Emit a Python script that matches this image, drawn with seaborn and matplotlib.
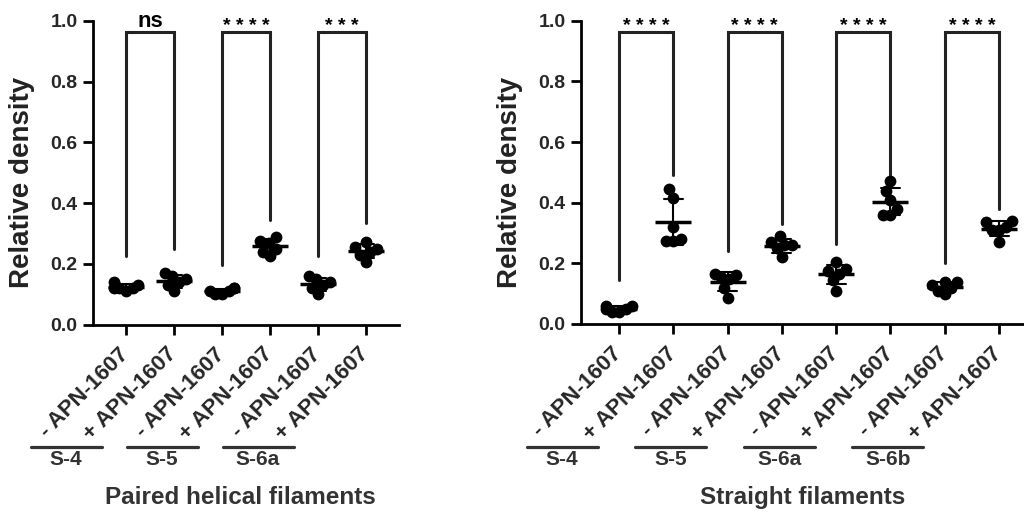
import matplotlib
matplotlib.use("Agg")
import matplotlib.pyplot as plt
from matplotlib.lines import Line2D
import pandas as pd
import seaborn as sns

# Paired helical filaments (left panel)
phf_samples = ["S-4", "S-5", "S-6a"]
phf_minus = [[0.14, 0.12, 0.13, 0.12, 0.11, 0.12],
             [0.11, 0.12, 0.10, 0.11, 0.10, 0.12],
             [0.16, 0.15, 0.13, 0.12, 0.10, 0.14]]
phf_plus = [[0.17, 0.16, 0.14, 0.13, 0.11, 0.15],
            [0.29, 0.275, 0.27, 0.25, 0.24, 0.225],
            [0.273, 0.257, 0.25, 0.24, 0.23, 0.207]]
phf_stars = ["ns", "****", "***"]
phf_bracket_low = [0.226, 0.249, 0.196, 0.344, 0.226, 0.335]

# Straight filaments (right panel)
sf_samples = ["S-4", "S-5", "S-6a", "S-6b"]
sf_minus = [[0.06, 0.05, 0.04, 0.06, 0.04, 0.05],
            [0.15, 0.165, 0.155, 0.12, 0.085, 0.16],
            [0.205, 0.18, 0.175, 0.165, 0.145, 0.11],
            [0.14, 0.13, 0.12, 0.11, 0.10, 0.14]]
sf_plus = [[0.445, 0.415, 0.32, 0.275, 0.28, 0.275],
           [0.29, 0.27, 0.26, 0.25, 0.22, 0.26],
           [0.47, 0.44, 0.41, 0.38, 0.36, 0.36],
           [0.34, 0.335, 0.32, 0.31, 0.31, 0.27]]
sf_stars = ["****", "****", "****", "****"]
sf_bracket_low = [0.145, 0.49, 0.24, 0.33, 0.264, 0.49, 0.2, 0.38]

tick_labels = ["- APN-1607", "+ APN-1607"]

sns.set_style("ticks")
plt.rcParams["font.family"] = ["Liberation Sans", "DejaVu Sans"]
plt.rcParams["font.weight"] = "bold"

W, H = 1024, 515
fig = plt.figure(figsize=(W / 100, H / 100), dpi=100)
ink = "#222222"


def draw_panel(rect, xlim, samples, minus, plus, stars, bracket_low, title, title_x):
    ax = fig.add_axes([rect[0] / W, (H - rect[3]) / H, (rect[1] - rect[0]) / W, (rect[3] - rect[2]) / H])

    rows = []
    order = []
    for s, m, p in zip(samples, minus, plus):
        order += [s + " -", s + " +"]
        rows += [(s + " -", v) for v in m]
        rows += [(s + " +", v) for v in p]
    df = pd.DataFrame(rows, columns=["cond", "value"])

    sns.swarmplot(data=df, x="cond", y="value", order=order, color="black",
                  size=8.5, ax=ax, zorder=3)
    sns.pointplot(data=df, x="cond", y="value", order=order, errorbar="sd",
                  capsize=0.35, linestyle="none", marker="_", markersize=26,
                  markeredgewidth=2.5, color="black",
                  err_kws={"linewidth": 1.5}, ax=ax, zorder=4)

    ax.set_xlim(*xlim)
    ax.set_ylim(0, 1.0)
    ax.set_yticks([0, 0.2, 0.4, 0.6, 0.8, 1.0])
    ax.set_yticklabels([f"{t:.1f}" for t in [0, 0.2, 0.4, 0.6, 0.8, 1.0]], fontsize=14)
    ax.set_xticks(range(len(order)))
    ax.set_xticklabels(tick_labels * len(samples), rotation=45, ha="right",
                       va="center", rotation_mode="anchor", fontsize=16)
    ax.tick_params(axis="both", length=7, width=2, color="black", pad=4)
    ax.tick_params(axis="x", pad=12)
    for sp in ["left", "bottom"]:
        ax.spines[sp].set_linewidth(2)
        ax.spines[sp].set_color("black")
    sns.despine(ax=ax)
    ax.set_xlabel("")
    ax.set_ylabel("Relative density", fontsize=20, fontweight="bold", color=ink)
    ax_w = rect[1] - rect[0]
    ax_h = rect[3] - rect[2]
    ax.yaxis.set_label_coords(-58 / ax_w, 0.5 - 10 / ax_h)

    # significance brackets
    top = 0.963
    for i, lab in enumerate(stars):
        x0, x1 = 2 * i, 2 * i + 1
        ax.plot([x0, x0, x1, x1], [bracket_low[x0], top, top, bracket_low[x1]],
                color=ink, lw=2.2, clip_on=False, solid_joinstyle="miter", zorder=2)
        if lab == "ns":
            ax.text((x0 + x1) / 2, top + 0.017, lab, ha="center", va="baseline",
                    fontsize=16, fontweight="bold", color="black", clip_on=False)
        else:
            ax.text((x0 + x1) / 2, top + 0.002, " ".join(lab), ha="center",
                    va="baseline", fontsize=14, fontweight="bold",
                    color="black", clip_on=False)

    # sample grouping bars under tick labels
    inv = fig.transFigure.inverted()
    for i, s in enumerate(samples):
        cx = inv.transform(ax.transData.transform((2 * i + 0.5, 0)))[0]
        c = cx - 84 / W
        fig.add_artist(Line2D([c - 35.5 / W, c + 35.5 / W], [0.1326, 0.1326],
                              color="#333333", lw=2.3, transform=fig.transFigure))
        fig.text(c, 0.107, s, ha="center", va="center", fontsize=15,
                 fontweight="bold", color="#333333")

    fig.text(title_x / W, 0.034, title, ha="center", va="center", fontsize=17.5,
             fontweight="bold", color="#333333")
    return ax


axes = [
    draw_panel((93, 399, 20.7, 324.7), (-0.6875, 5.6875), phf_samples, phf_minus,
               phf_plus, phf_stars, phf_bracket_low, "Paired helical filaments", 240.5),
    draw_panel((581, 1024, 20.7, 324.0), (-0.7, 7.46), sf_samples, sf_minus,
               sf_plus, sf_stars, sf_bracket_low, "Straight filaments", 803),
]

# let seaborn lay out the swarms, then pull each swarm in so the dots
# overlap into tight clusters like the original figure
fig.canvas.draw()
for ax in axes:
    for coll in ax.collections:
        if "draw" not in coll.__dict__:
            continue
        off = coll.get_offsets().copy()
        centre = off[:, 0].round()
        off[:, 0] = centre + (off[:, 0] - centre) * 0.6
        coll.set_offsets(off)
        del coll.draw

fig.savefig("out.png", dpi=100)
